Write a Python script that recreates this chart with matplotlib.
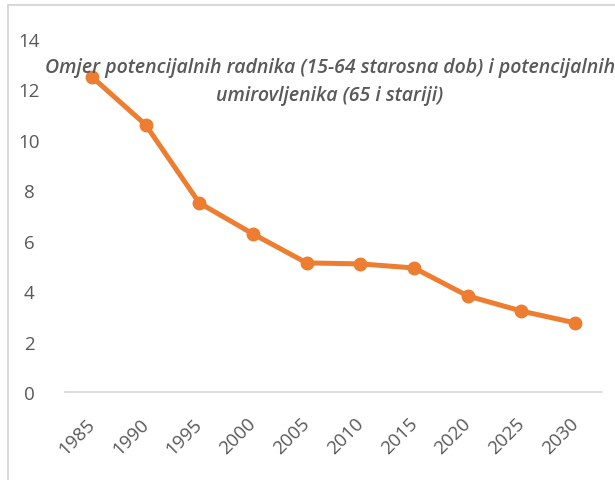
import matplotlib
matplotlib.use("Agg")
import matplotlib.pyplot as plt
from matplotlib.patches import Rectangle
from matplotlib.transforms import ScaledTranslation

years = ["1985", "1990", "1995", "2000", "2005", "2010", "2015", "2020", "2025", "2030"]
ratio = [12.5, 10.6, 7.5, 6.27, 5.12, 5.08, 4.92, 3.81, 3.21, 2.74]
yticks = [0, 2, 4, 6, 8, 10, 12, 14]
title = "Omjer potencijalnih radnika (15-64 starosna dob) i potencijalnih\numirovljenika (65 i stariji)"

W, H = 615, 481
fig = plt.figure(figsize=(W / 100, H / 100), dpi=100)
fig.patch.set_facecolor("white")

# chart frame (partially visible)
fig.add_artist(Rectangle((8 / W, -0.1), 1.2, (H - 6) / H + 0.1, transform=fig.transFigure,
                         fill=False, edgecolor="#d9d9d9", linewidth=1.5))

ax = fig.add_axes([65 / W, (H - 393) / H, (602 - 65) / W, (393 - 40) / H])
x = list(range(len(years)))
ax.plot(x, ratio, color="#ED7D31", linewidth=3.6, marker="o", markersize=9,
        markerfacecolor="#ED7D31", markeredgecolor="#ED7D31", zorder=3)
ax.set_xlim(-0.5, len(years) - 0.5)
ax.set_ylim(0, 14)
ax.set_yticks(yticks)
ax.set_yticklabels([str(v) for v in yticks])
ax.set_xticks(x)
ax.set_xticklabels(years, rotation=45, ha="right", va="top", rotation_mode="anchor")
for s in ["top", "right", "left"]:
    ax.spines[s].set_visible(False)
ax.spines["bottom"].set_color("#d9d9d9")
ax.spines["bottom"].set_linewidth(1.2)
ax.tick_params(axis="both", length=0, labelsize=13.5, colors="#595959")
ax.tick_params(axis="y", pad=0)
ax.tick_params(axis="x", pad=16)
for lab in ax.get_yticklabels():
    lab.set_fontfamily("Open Sans")
    lab.set_horizontalalignment("center")
    lab.set_transform(lab.get_transform() + ScaledTranslation(-0.36, 0, fig.dpi_scale_trans))
for lab in ax.get_xticklabels():
    lab.set_fontfamily("Open Sans")
    lab.set_transform(lab.get_transform() + ScaledTranslation(-0.06, 0, fig.dpi_scale_trans))

fig.text(330 / W, 1 - 82 / H, title, ha="center", va="center", fontsize=14,
         fontstyle="italic", fontweight="semibold", color="#595959",
         family="Open Sans", linespacing=1.55)

fig.savefig("out.png", dpi=100)
